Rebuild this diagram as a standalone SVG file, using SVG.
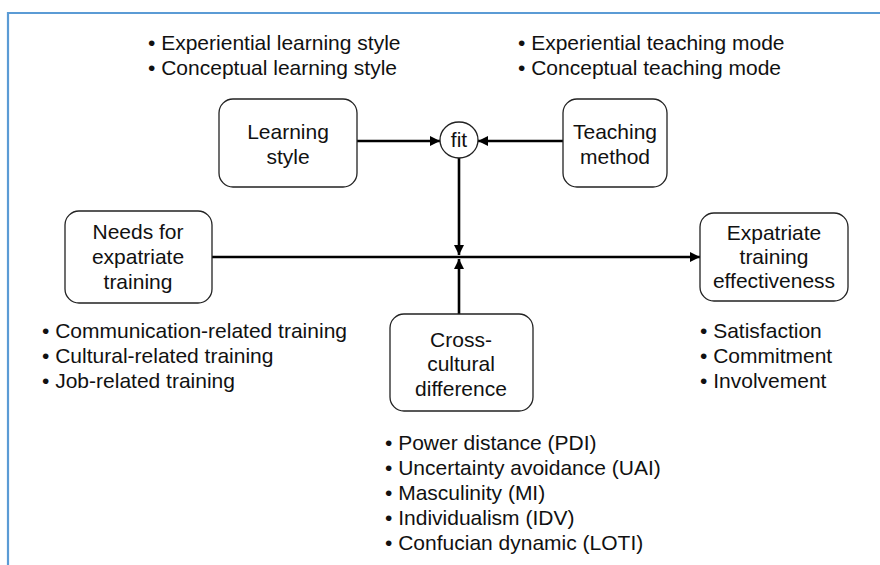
<svg xmlns="http://www.w3.org/2000/svg" width="880" height="565" viewBox="0 0 880 565">
  <style>
    text { font-family: "Liberation Sans", Arial, Helvetica, sans-serif; font-size: 21px; fill: #111; }
    .c { text-anchor: middle; }
    .box { fill: #fff; stroke: #222; stroke-width: 1.3; }
    .edge { stroke: #000; stroke-width: 2.6; fill: none; }
    .frame { stroke: #5b9bd5; stroke-width: 2.2; fill: none; }
  </style>
  <defs>
    <marker id="arrow" viewBox="0 0 10 10" refX="10" refY="5" markerWidth="10" markerHeight="10" markerUnits="userSpaceOnUse" orient="auto">
      <path d="M0,0 L10,5 L0,10 z" fill="#000"/>
    </marker>
  </defs>

  <rect width="880" height="565" fill="#fff"/>
  <!-- panel frame (top and left edges) -->
  <path class="frame" d="M8,565 V13 H880"/>

  <!-- connectors -->
  <g id="connectors">
    <line class="edge" x1="357" y1="141" x2="440" y2="141" marker-end="url(#arrow)"/>
    <line class="edge" x1="563" y1="141" x2="478" y2="141" marker-end="url(#arrow)"/>
    <line class="edge" x1="459" y1="158" x2="459" y2="255" marker-end="url(#arrow)"/>
    <line class="edge" x1="459" y1="314" x2="459" y2="259" marker-end="url(#arrow)"/>
    <line class="edge" x1="212" y1="257" x2="700" y2="257" marker-end="url(#arrow)"/>
  </g>

  <g id="learning-style">
    <rect class="box" x="219" y="99" width="138" height="88" rx="14"/>
    <text class="c" x="288" y="139">Learning</text>
    <text class="c" x="288" y="164">style</text>
  </g>

  <g id="fit">
    <ellipse class="box" cx="459" cy="140" rx="19" ry="18"/>
    <text class="c" x="459" y="147">fit</text>
  </g>

  <g id="teaching-method">
    <rect class="box" x="563" y="99" width="104" height="88" rx="14"/>
    <text class="c" x="615" y="139">Teaching</text>
    <text class="c" x="615" y="164">method</text>
  </g>

  <g id="needs">
    <rect class="box" x="65" y="211" width="147" height="92" rx="14"/>
    <text class="c" x="138" y="239">Needs for</text>
    <text class="c" x="138" y="264">expatriate</text>
    <text class="c" x="138" y="289">training</text>
  </g>

  <g id="effectiveness">
    <rect class="box" x="700" y="213" width="148" height="88" rx="14"/>
    <text class="c" x="774" y="240">Expatriate</text>
    <text class="c" x="774" y="264">training</text>
    <text class="c" x="774" y="288">effectiveness</text>
  </g>

  <g id="cross-cultural">
    <rect class="box" x="390" y="314" width="143" height="97" rx="14"/>
    <text class="c" x="461" y="347">Cross-</text>
    <text class="c" x="461" y="371">cultural</text>
    <text class="c" x="461" y="396">difference</text>
  </g>

  <!-- bullet lists -->
  <g id="learning-list">
    <text x="148" y="50">• Experiential learning style</text>
    <text x="148" y="75">• Conceptual learning style</text>
  </g>
  <g id="teaching-list">
    <text x="518" y="50">• Experiential teaching mode</text>
    <text x="518" y="75">• Conceptual teaching mode</text>
  </g>
  <g id="needs-list">
    <text x="42" y="338">• Communication-related training</text>
    <text x="42" y="363">• Cultural-related training</text>
    <text x="42" y="388">• Job-related training</text>
  </g>
  <g id="effectiveness-list">
    <text x="700" y="338">• Satisfaction</text>
    <text x="700" y="363">• Commitment</text>
    <text x="700" y="388">• Involvement</text>
  </g>
  <g id="culture-list">
    <text x="385" y="450">• Power distance (PDI)</text>
    <text x="385" y="475">• Uncertainty avoidance (UAI)</text>
    <text x="385" y="500">• Masculinity (MI)</text>
    <text x="385" y="525">• Individualism (IDV)</text>
    <text x="385" y="550">• Confucian dynamic (LOTI)</text>
  </g>
</svg>
